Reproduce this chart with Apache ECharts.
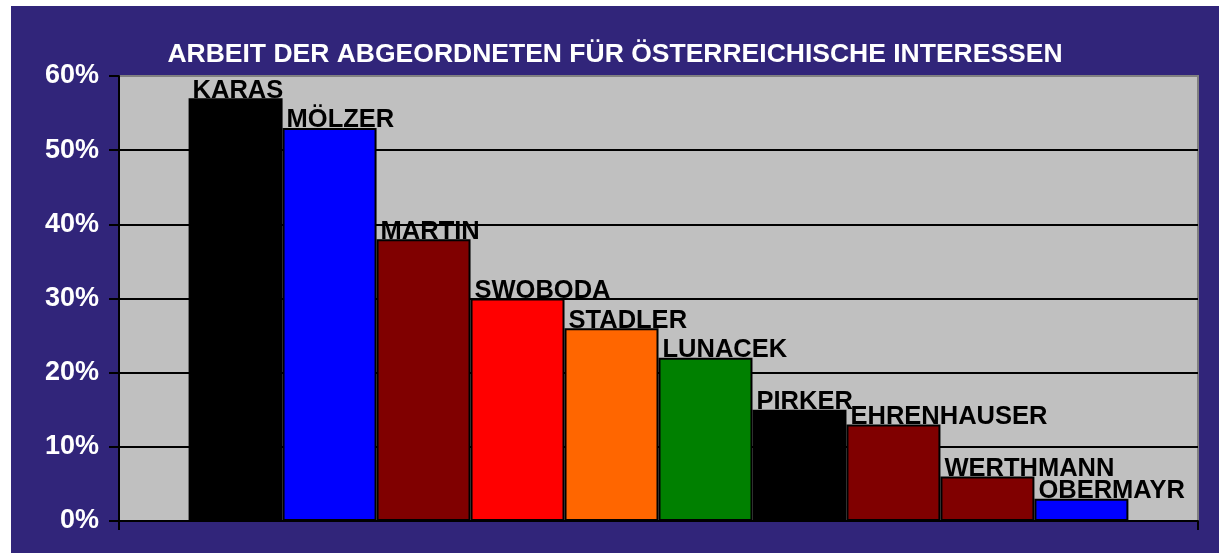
<!DOCTYPE html>
<html>
<head>
<meta charset="utf-8">
<script src="https://cdn.jsdelivr.net/npm/echarts@6/dist/echarts.min.js"></script>
<style>
html,body{margin:0;padding:0;background:#ffffff;}
#chart{position:absolute;left:11px;top:6px;width:1208px;height:547px;}
</style>
</head>
<body>
<div id="chart"></div>
<script>
const titleText = 'ARBEIT DER ABGEORDNETEN FÜR ÖSTERREICHISCHE INTERESSEN';
const names = ['KARAS','MÖLZER','MARTIN','SWOBODA','STADLER','LUNACEK','PIRKER','EHRENHAUSER','WERTHMANN','OBERMAYR'];
const values = [57, 53, 38, 30, 26, 22, 15, 13, 6, 3];
const colors = ['#000000','#0000FF','#800000','#FF0000','#FF6600','#008000','#000000','#800000','#800000','#0000FF'];
const yTicks = [0, 10, 20, 30, 40, 50, 60];

const FONT = 'Liberation Sans, Arial, sans-serif';
const chart = echarts.init(document.getElementById('chart'), null, {renderer:'canvas'});

const series = names.map((n, i) => ({
  name: n,
  type: 'bar',
  data: [values[i]],
  barGap: '0%',
  barCategoryGap: '12.9%',
  itemStyle: { color: colors[i], borderColor: '#000000', borderWidth: 2 },
  label: {
    show: true,
    formatter: '{a}',
    position: [4, 5],
    align: 'left',
    verticalAlign: 'bottom',
    color: '#000000',
    fontFamily: FONT,
    fontWeight: 'bold',
    fontSize: 25.5,
    lineHeight: 25
  },
  z: 2
}));

chart.setOption({
  backgroundColor: '#31257A',
  animation: false,
  title: {
    text: titleText,
    left: 'center',
    top: 30,
    textStyle: { color: '#ffffff', fontFamily: FONT, fontWeight: 'bold', fontSize: 26.5 }
  },
  grid: {
    left: 108, top: 70, right: 21, bottom: 32,
    show: true, backgroundColor: '#C0C0C0', borderColor: '#808080', borderWidth: 2
  },
  xAxis: {
    type: 'category',
    data: [''],
    axisLine: { lineStyle: { color: '#000000', width: 2 } },
    axisTick: { show: true, length: 9, lineStyle: { color: '#000000', width: 2 } },
    axisLabel: { show: false }
  },
  yAxis: {
    type: 'value',
    min: yTicks[0], max: yTicks[yTicks.length - 1], interval: 10,
    axisLine: { show: true, lineStyle: { color: '#000000', width: 2 } },
    axisTick: { show: true, length: 10, lineStyle: { color: '#000000', width: 2 } },
    axisLabel: {
      formatter: '{value}%', color: '#ffffff', fontFamily: FONT, fontWeight: 'bold',
      fontSize: 27, margin: 20
    },
    splitLine: { show: true, lineStyle: { color: ['#000000','#000000','#000000','#000000','#000000','#000000','#808080'], width: 2 } }
  },
  series: series
});
</script>
</body>
</html>
